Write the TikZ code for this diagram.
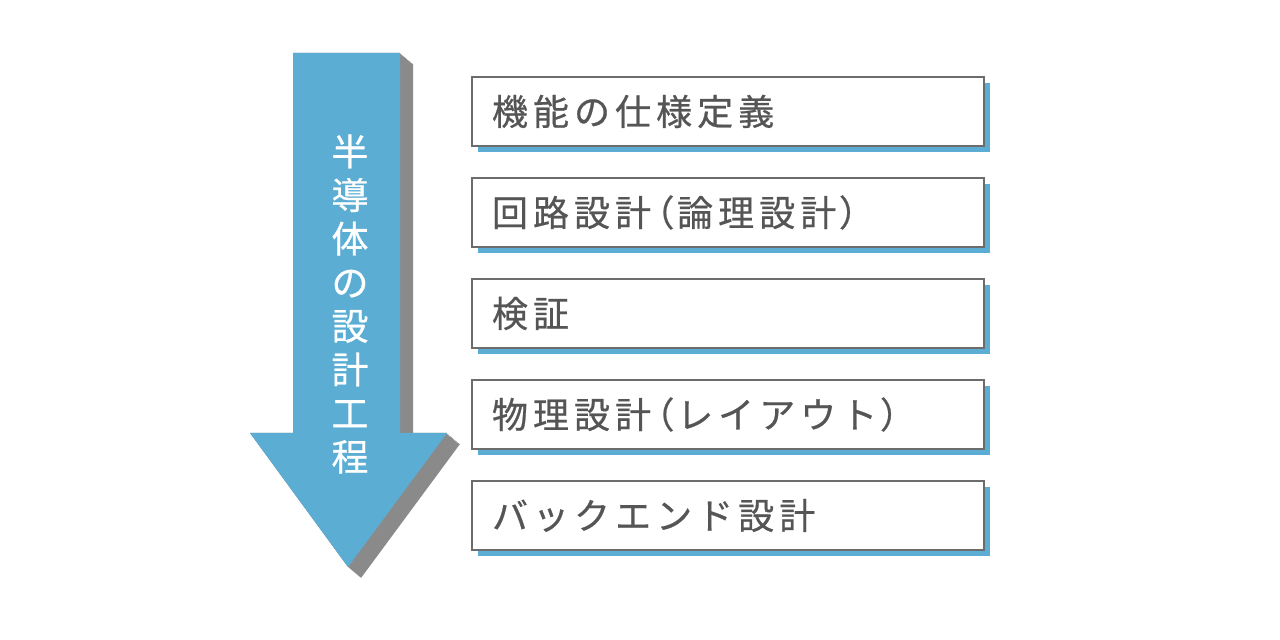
\documentclass[tikz,border=0pt]{standalone}
\usepackage{fontspec}
\newfontfamily\jpfont[FakeBold=0.6]{Noto Sans CJK JP}
\newfontfamily\stagefont[FakeBold=0.6,LetterSpace=14]{Noto Sans CJK JP}
\newcommand\jlp{\kern2pt{\addfontfeature{RawFeature=+palt}（}\kern2pt}
\newcommand\jrp{\kern2pt{\addfontfeature{RawFeature=+palt}）}}
\usetikzlibrary{positioning,shadows}
\definecolor{arrowblue}{HTML}{5BADD3}
\definecolor{arrowshade}{HTML}{8A8A8A}
\definecolor{boxline}{HTML}{6C6C6C}
\definecolor{boxtext}{HTML}{555555}

\begin{document}
\begin{tikzpicture}[x=0.5pt,y=-0.5pt,node distance=50.5pt,
	stage/.style = {draw=boxline, line width=1.3pt, fill=white, minimum height=34.5pt, text width=236pt, inner xsep=10pt, align=left, text=boxtext, font=\stagefont\fontsize{18pt}{22pt}\selectfont, general shadow={fill=arrowblue, shadow xshift=3pt, shadow yshift=-3pt}}]
		\useasboundingbox (0,0) rectangle (1280,640);
		
		%Grey side of the big arrow
		\foreach \s in {0,1,...,13}
			\fill[arrowshade, shift={(\s,\s*11/13)}] (293,53) -- (400,53) -- (400,433) -- (447,433) -- (348,567) -- (250,433) -- (293,433) -- cycle;
		%Big arrow
		\fill[arrowblue] (293,53) -- (400,53) -- (400,433) -- (447,433) -- (348,567) -- (250,433) -- (293,433) -- cycle;
		\node[text=white, align=center, font=\jpfont\fontsize{18.5pt}{21.8pt}\selectfont] (title) at (350,304) {半\\導\\体\\の\\設\\計\\工\\程};
		
		%Steps of the flow
		\node[stage] (s1) at (728,111.5) {機能の仕様定義};
		\node[stage] (s2) [below of=s1] {回路設計\jlp 論理設計\jrp};
		\node[stage] (s3) [below of=s2] {検証};
		\node[stage] (s4) [below of=s3] {物理設計\jlp レイアウト\jrp};
		\node[stage] (s5) [below of=s4] {バックエンド設計};
		
	\end{tikzpicture}
\end{document}
